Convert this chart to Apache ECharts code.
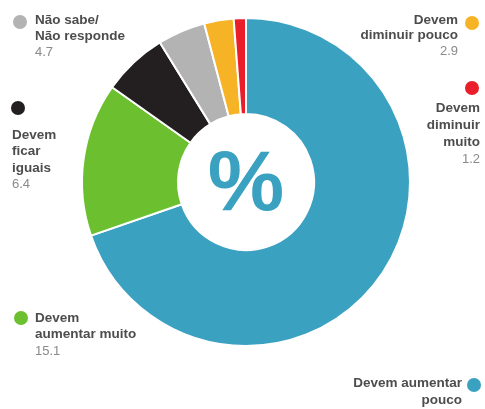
<!DOCTYPE html>
<html>
<head>
<meta charset="utf-8">
<script src="https://cdn.jsdelivr.net/npm/echarts@6/dist/echarts.min.js"></script>
<style>
  html, body { margin: 0; padding: 0; background: #ffffff; }
  #chart { width: 485px; height: 409px; }
</style>
</head>
<body>
<div id="chart"></div>
<script>
// Opinion shares (%), in clockwise order from 12 o'clock
const categories = [
  'Devem aumentar pouco',
  'Devem aumentar muito',
  'Devem ficar iguais',
  'Não sabe/ Não responde',
  'Devem diminuir pouco',
  'Devem diminuir muito'
];
const values = [69.7, 15.1, 6.4, 4.7, 2.9, 1.2];
const valueLabels = ['', '15.1', '6.4', '4.7', '2.9', '1.2'];
const labelLines = [
  ['Devem aumentar', 'pouco'],
  ['Devem', 'aumentar muito'],
  ['Devem', 'ficar', 'iguais'],
  ['Não sabe/', 'Não responde'],
  ['Devem', 'diminuir pouco'],
  ['Devem', 'diminuir', 'muito']
];
const colors = ['#3ba1c1', '#6cc02f', '#231f20', '#b3b3b3', '#f6b326', '#e91e2a'];

const FONT = '"Liberation Sans", Arial, sans-serif';

// Callouts: dot position, first-line anchor, alignment, line height
const callouts = [
  { dot: [474, 385], x: 462, y: 383, align: 'right', lh: 17.5 },
  { dot: [21, 318],  x: 35,  y: 318, align: 'left',  lh: 16.5 },
  { dot: [18, 108],  x: 12,  y: 135, align: 'left',  lh: 16.5 },
  { dot: [20, 22],   x: 35,  y: 20,  align: 'left',  lh: 16 },
  { dot: [472, 23],  x: 458, y: 20,  align: 'right', lh: 15.5 },
  { dot: [472, 88],  x: 480, y: 108, align: 'right', lh: 17 }
];

const graphics = [];
callouts.forEach((c, i) => {
  graphics.push({
    type: 'circle',
    shape: { cx: c.dot[0], cy: c.dot[1], r: 7 },
    style: { fill: colors[i] }
  });
  const lines = labelLines[i];
  lines.forEach((t, k) => {
    graphics.push({
      type: 'text',
      x: c.x, y: c.y + k * c.lh,
      style: {
        text: t, fill: '#4d4d4d', font: 'bold 13.5px ' + FONT,
        textAlign: c.align, textVerticalAlign: 'middle'
      }
    });
  });
  if (valueLabels[i]) {
    graphics.push({
      type: 'text',
      x: c.x, y: c.y + lines.length * c.lh,
      style: {
        text: valueLabels[i], fill: '#8a8a8a', font: '13px ' + FONT,
        textAlign: c.align, textVerticalAlign: 'middle'
      }
    });
  }
});

// Percent sign in the hole of the donut
graphics.push({
  type: 'text',
  x: 246, y: 186,
  style: {
    text: '%', fill: '#3ba1c1', font: 'bold 86px ' + FONT,
    textAlign: 'center', textVerticalAlign: 'middle'
  }
});

const chart = echarts.init(document.getElementById('chart'));
chart.setOption({
  animation: false,
  backgroundColor: '#ffffff',
  series: [{
    type: 'pie',
    center: [246, 182],
    radius: [68, 164],
    startAngle: 90,
    clockwise: true,
    label: { show: false },
    labelLine: { show: false },
    itemStyle: { borderColor: '#ffffff', borderWidth: 2 },
    emphasis: { disabled: true },
    data: categories.map((name, i) => ({
      name: name, value: values[i], itemStyle: { color: colors[i] }
    }))
  }],
  graphic: graphics
});
</script>
</body>
</html>
